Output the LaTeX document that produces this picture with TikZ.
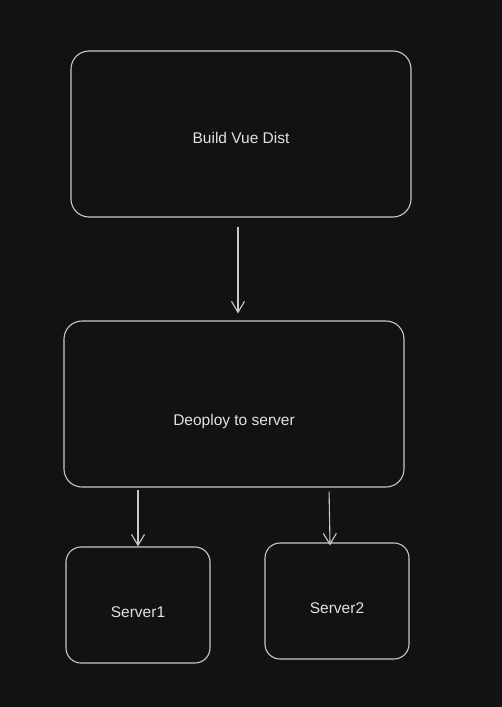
\documentclass[tikz,border=0pt]{standalone}
\usepackage{fontspec}
\setmainfont{Liberation Sans}
\usetikzlibrary{arrows.meta}
\definecolor{bgdark}{HTML}{121212}
\definecolor{inkgrey}{HTML}{C8C8C8}
\definecolor{textgrey}{HTML}{E2E2E2}

\begin{document}
\begin{tikzpicture}[x=1pt,y=-1pt,
  every node/.style={draw=inkgrey,line width=1.1pt,text=textgrey,
    font=\fontsize{15.5}{18}\selectfont,inner sep=0pt,text depth=0pt},
  bigbox/.style={rounded corners=18pt,minimum width=340pt,minimum height=166pt},
  smallbox/.style={rounded corners=15pt,minimum width=144pt,minimum height=116pt},
  flow/.style={draw=inkgrey,line width=1.1pt,-{Straight Barb[length=11pt,width=13pt]}}]
\fill[bgdark] (0,0) rectangle (502,707);
\node[bigbox,text height=19pt]   (build)   at (241,134) {Build Vue Dist};
\node[bigbox,text height=43pt]   (deploy)  at (234,404) {Deoploy to server};
\node[smallbox,text height=25pt] (server1) at (138,605) {Server1};
\node[smallbox,text height=25pt] (server2) at (337,601) {Server2};
\draw[flow,shorten <=9pt,shorten >=7pt] ([xshift=-3pt]build.south) -- ([xshift=4pt]deploy.north);
\draw[flow,shorten <=2pt] ([xshift=-96pt]deploy.south) -- (server1.north);
\draw[flow,shorten <=4pt,shorten >=-3pt] ([xshift=95pt]deploy.south) -- ([xshift=-7pt]server2.north);
\end{tikzpicture}
\end{document}
